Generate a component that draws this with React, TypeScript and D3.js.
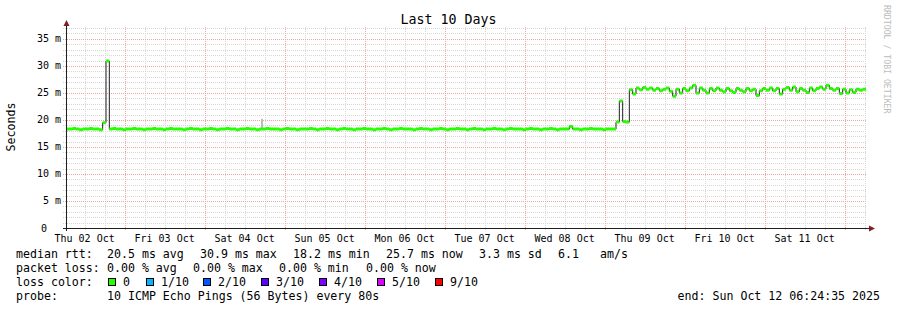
import React from "react";
import * as d3 from "d3";

const TITLE = "Last 10 Days";
const Y_LABEL = "Seconds";
const WATERMARK = "RRDTOOL / TOBI OETIKER";
const START = new Date(2025, 9, 2, 6, 24, 35);
const END = new Date(2025, 9, 12, 6, 24, 35);
const DAY_LABELS = ["Thu 02 Oct", "Fri 03 Oct", "Sat 04 Oct", "Sun 05 Oct", "Mon 06 Oct", "Tue 07 Oct", "Wed 08 Oct", "Thu 09 Oct", "Fri 10 Oct", "Sat 11 Oct"];
const Y_TICKS = [0, 5, 10, 15, 20, 25, 30, 35];
const Y_TICK_LABELS = ["0", "5 m", "10 m", "15 m", "20 m", "25 m", "30 m", "35 m"];

// hourly median rtt (ms), starting at START
const medianRtt = [
  18.3, 18.3, 18.4, 18.3, 18.2, 18.3, 18.3, 18.4, 18.3, 18.3, 18.2, 19.5, 30.9, 18.3, 18.4, 18.3, 18.3, 18.2, 18.3, 18.3, 18.4, 18.3, 18.3, 18.2,
  18.3, 18.3, 18.4, 18.3, 18.3, 18.2, 18.3, 18.4, 18.3, 18.3, 18.3, 18.2, 18.3, 18.4, 18.3, 18.3, 18.2, 18.3, 18.3, 18.4, 18.3, 18.2, 18.3, 18.3,
  18.4, 18.3, 18.3, 18.2, 18.3, 18.3, 18.4, 18.3, 18.3, 18.2, 18.3, 18.3, 18.4, 18.3, 18.3, 18.3, 18.2, 18.3, 18.4, 18.3, 18.3, 18.2, 18.3, 18.3,
  18.3, 18.4, 18.3, 18.2, 18.3, 18.3, 18.4, 18.3, 18.3, 18.2, 18.3, 18.4, 18.3, 18.3, 18.2, 18.3, 18.3, 18.4, 18.3, 18.3, 18.2, 18.3, 18.3, 18.4,
  18.3, 18.2, 18.3, 18.3, 18.4, 18.3, 18.3, 18.3, 18.2, 18.3, 18.4, 18.3, 18.3, 18.2, 18.3, 18.3, 18.4, 18.3, 18.2, 18.3, 18.3, 18.4, 18.3, 18.3,
  18.2, 18.3, 18.4, 18.3, 18.3, 18.2, 18.3, 18.3, 18.4, 18.3, 18.3, 18.2, 18.3, 18.4, 18.3, 18.3, 18.3, 18.2, 18.3, 18.4, 18.3, 18.3, 18.2, 18.3,
  18.3, 18.4, 18.3, 18.2, 18.3, 18.3, 18.3, 18.8, 18.3, 18.3, 18.2, 18.3, 18.3, 18.4, 18.3, 18.3, 18.3, 18.2, 18.3, 18.3, 18.3, 19.6, 23.5, 19.7,
  19.6, 25.6, 24.8, 25.9, 25.6, 26.0, 25.7, 25.9, 25.5, 25.8, 25.4, 25.7, 25.9, 25.3, 24.4, 25.7, 25.0, 25.8, 25.4, 25.9, 26.4, 25.0, 25.9, 25.5,
  25.0, 25.8, 25.4, 25.9, 25.5, 25.2, 25.8, 25.4, 25.1, 25.8, 25.5, 25.2, 25.8, 25.4, 25.7, 24.5, 25.4, 25.8, 25.5, 25.9, 25.4, 25.8, 24.8, 25.7,
  26.0, 25.5, 26.1, 25.2, 25.8, 25.5, 25.1, 25.9, 25.4, 25.8, 26.1, 25.7, 26.4, 25.8, 25.5, 25.8, 24.9, 25.7, 25.0, 25.6, 25.1, 25.7, 25.5, 25.7,
];
const smokeHours = [58.5];
const smokeTops = [20.2];

const MEDIAN_STATS = ["20.5 ms avg", "30.9 ms max", "18.2 ms min", "25.7 ms now", "3.3 ms sd", "6.1", "am/s"];
const LOSS_STATS = ["0.00 % avg", "0.00 % max", "0.00 % min", "0.00 % now"];
const LOSS_LABELS = ["0", "1/10", "2/10", "3/10", "4/10", "5/10", "9/10"];
const LOSS_COLORS = ["#26ff00", "#00b8ff", "#0059ff", "#5e00ff", "#7e00ff", "#dd00ff", "#ff0000"];
const PROBE = "10 ICMP Echo Pings (56 Bytes) every 80s";
const END_TEXT = "end: Sun Oct 12 06:24:35 2025";

const MEDIAN_X = [107, 200, 293, 386, 479, 558, 600];
const LOSS_X = [107, 193, 279, 366];
const BOX_X = [108, 146, 203, 261, 319, 377, 435];

export default function App() {
  const W = 897, H = 310;
  const L = 66, R = 866, T = 27, B = 228;
  const x = d3.scaleTime().domain([START, END]).range([L, R]);
  const y = d3.scaleLinear().domain([0, 37.2]).range([B, T]);
  const HOUR = 3600 * 1000;
  const pts = medianRtt.map((v, i) => ({ t: new Date(START.getTime() + i * HOUR), v }));
  pts.push({ t: END, v: medianRtt[medianRtt.length - 1] });

  const line = d3.line<{ t: Date; v: number }>().x(d => x(d.t)).y(d => y(d.v)).curve(d3.curveStepAfter);
  const band = d3.area<{ t: Date; v: number }>().x(d => x(d.t)).y0(d => y(d.v) + 1.5).y1(d => y(d.v) - 1.5).curve(d3.curveStepAfter);

  const minorY = d3.range(1, 38).filter(v => v % 5 !== 0);
  const majorY = Y_TICKS.filter(v => v > 0);
  const sixH = d3.timeHour.every(6)!.range(START, END).filter(d => d.getHours() !== 0);
  const midnights = d3.timeDay.range(START, END);
  const noons = d3.timeDay.range(d3.timeDay.floor(START), END).map(d => new Date(d.getTime() + 12 * HOUR));

  const mono = "DejaVu Sans Mono";
  const minorC = "#d6d6d6";
  const majorC = "#f2a4a4";

  return (
    <svg width={W} height={H} style={{ display: "block", position: "absolute", left: 0, top: 0, background: "#fff" }} fontFamily={mono}>
      <rect width={W} height={H} fill="#fff" />
      {minorY.map(v => (
        <line key={"my" + v} x1={L - 3} x2={R} y1={Math.round(y(v)) + 0.5} y2={Math.round(y(v)) + 0.5} stroke={minorC} strokeDasharray="1,1" />
      ))}
      {sixH.map((d, i) => (
        <line key={"mx" + i} x1={Math.round(x(d)) + 0.5} x2={Math.round(x(d)) + 0.5} y1={T} y2={B + 3} stroke={minorC} strokeDasharray="1,1" />
      ))}
      {majorY.map(v => (
        <line key={"My" + v} x1={L - 3} x2={R} y1={Math.round(y(v)) + 0.5} y2={Math.round(y(v)) + 0.5} stroke={majorC} strokeDasharray="1,1" />
      ))}
      {midnights.map((d, i) => (
        <line key={"Mx" + i} x1={Math.round(x(d)) + 0.5} x2={Math.round(x(d)) + 0.5} y1={T} y2={B + 3} stroke={majorC} strokeDasharray="1,1" />
      ))}
      {smokeHours.map((h, i) => {
        const t = new Date(START.getTime() + h * HOUR);
        return <rect key={"s" + i} x={x(t)} width={2} y={y(smokeTops[i])} height={y(18.3) - y(smokeTops[i])} fill="#bdbdbd" />;
      })}
      <path d={line(pts) || ""} fill="none" stroke="#202020" strokeWidth={1} />
      <path d={band(pts) || ""} fill="#26ff00" />

      {/* axes */}
      <line x1={L - 3} x2={R + 4} y1={B + 0.5} y2={B + 0.5} stroke="#1f1f1f" />
      <line x1={L + 0.5} x2={L + 0.5} y1={B + 3} y2={T - 4} stroke="#1f1f1f" />
      <path d={`M${L - 2.5},${T - 1}L${L + 3.5},${T - 1}L${L + 0.5},${T - 7}Z`} fill="#801f1f" />
      <path d={`M${R + 3},${B - 2.5}L${R + 3},${B + 3.5}L${R + 9},${B + 0.5}Z`} fill="#801f1f" />

      {Y_TICKS.map((v, i) => (
        <text key={"yt" + v} x={v === 0 ? 47 : 61} y={y(v) + 3.5} fontSize={10} textAnchor="end" fill="#000">{Y_TICK_LABELS[i]}</text>
      ))}
      {noons.map((d, i) => (
        <text key={"xt" + i} x={x(d)} y={241.5} fontSize={10} textAnchor="middle" fill="#000">{DAY_LABELS[i]}</text>
      ))}

      <text x={448.5} y={23.5} fontSize={13.3} textAnchor="middle" fill="#000">{TITLE}</text>
      <text transform="translate(14.5,127) rotate(-90)" fontSize={11.6} textAnchor="middle" fill="#000">{Y_LABEL}</text>
      <text transform="translate(884,5) rotate(90)" fontSize={8.2} fill="#bcbcbc">{WATERMARK}</text>

      <g fontSize={11.6} fill="#000" style={{ whiteSpace: "pre" }}>
        <text x={16} y={258}>median rtt:</text>
        {MEDIAN_STATS.map((s, i) => <text key={"m" + i} x={MEDIAN_X[i]} y={258}>{s}</text>)}
        <text x={16} y={272}>packet loss:</text>
        {LOSS_STATS.map((s, i) => <text key={"l" + i} x={LOSS_X[i]} y={272}>{s}</text>)}
        <text x={16} y={286}>loss color:</text>
        {LOSS_LABELS.map((s, i) => (
          <g key={"c" + i}>
            <rect x={BOX_X[i] + 0.5} y={278.5} width={7} height={7} fill={LOSS_COLORS[i]} stroke="#000" />
            <text x={BOX_X[i] + 15} y={286}>{s}</text>
          </g>
        ))}
        <text x={16} y={300}>probe:</text>
        <text x={107} y={300}>{PROBE}</text>
        <text x={880} y={300} textAnchor="end">{END_TEXT}</text>
      </g>
    </svg>
  );
}
